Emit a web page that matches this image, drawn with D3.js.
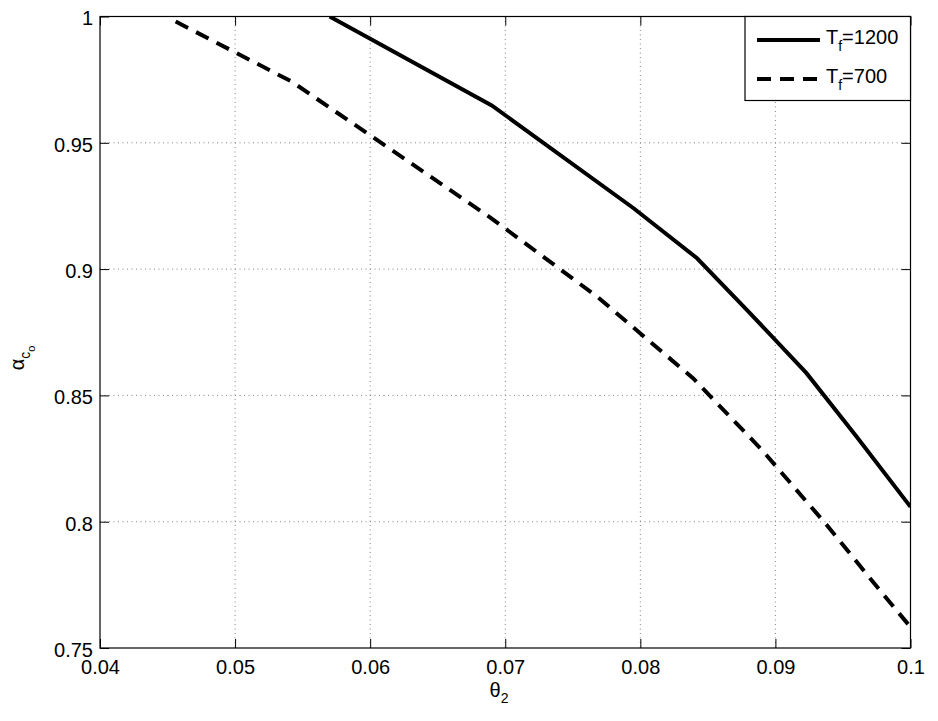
<!DOCTYPE html>
<html lang="en">
<head>
    <meta charset="UTF-8">
    <title>alpha vs theta2</title>
    <style>
        body{
            margin: 0;
            background: #fff;
        }
        svg{
            display: block;
            font-family: "Liberation Sans", Arial, Helvetica, sans-serif;
        }
        .axis text{
            font-size: 20px;
            fill: #000;
        }
        .axis .domain{
            stroke: none;
        }
        .axis .tick line{
            stroke: #000;
            stroke-width: 1px;
        }
        .grid line{
            stroke: #666;
            stroke-width: .8px;
            stroke-dasharray: 1 3.5;
        }
        .frame{
            fill: none;
            stroke: #000;
            stroke-width: 1.2px;
        }
        .TfHigh{
            fill: none;
            stroke: #000;
            stroke-width: 4px;
        }
        .TfLow{
            fill: none;
            stroke: #000;
            stroke-width: 4px;
            stroke-dasharray: 14 9;
        }
        .label{
            font-size: 20px;
        }
    </style>
    <script src="https://cdn.jsdelivr.net/npm/d3@7"></script>
</head>
<body>
<script>

    // ---- data ----
    const xTicks = [0.04, 0.05, 0.06, 0.07, 0.08, 0.09, 0.1];
    const xTickLabels = ["0.04", "0.05", "0.06", "0.07", "0.08", "0.09", "0.1"];
    const yTicks = [0.75, 0.8, 0.85, 0.9, 0.95, 1];
    const yTickLabels = ["0.75", "0.8", "0.85", "0.9", "0.95", "1"];

    // T_f = 1200 (solid)
    const theta1200 = [0.0570, 0.0690, 0.0795, 0.0842, 0.0879, 0.0923, 0.0960, 0.1];
    const alpha1200 = [1.000, 0.9648, 0.9241, 0.9043, 0.8838, 0.8588, 0.8337, 0.8059];

    // T_f = 700 (dashed)
    const theta700 = [0.0456, 0.0542, 0.0690, 0.0768, 0.0839, 0.0890, 0.0938, 0.0974, 0.1];
    const alpha700 = [0.998, 0.9742, 0.9200, 0.8891, 0.8568, 0.8284, 0.7987, 0.7750, 0.7583];

    const seriesNames = ["1200", "700"];

    const width = 938;
    const height = 721;
    const margins = {top: 16.5, bottom: 73, left: 100, right: 27.5};

    const svg = d3.select("body").append("svg")
        .attr("width", width)
        .attr("height", height)
        .attr("viewBox", `0,0,${width},${height}`);

    const xScale = d3.scaleLinear()
        .domain([0.04, 0.1])
        .range([margins.left, width - margins.right]);

    const yScale = d3.scaleLinear()
        .domain([0.75, 1])
        .range([height - margins.bottom, margins.top]);

    const x0 = xScale.range()[0], x1 = xScale.range()[1];
    const y0 = yScale.range()[0], y1 = yScale.range()[1];

    /* ------------- grid ------------- */
    const grid = svg.append("g").attr("class", "grid");
    grid.selectAll(".gx")
        .data(xTicks.slice(1, -1))
        .enter().append("line")
        .attr("x1", d => xScale(d)).attr("x2", d => xScale(d))
        .attr("y1", y1).attr("y2", y0);
    grid.selectAll(".gy")
        .data(yTicks.slice(1, -1))
        .enter().append("line")
        .attr("x1", x0).attr("x2", x1)
        .attr("y1", d => yScale(d)).attr("y2", d => yScale(d));

    /* ------------- axes (ticks point inwards) ------------- */
    const fmtX = (d, i) => xTickLabels[i];
    const fmtY = (d, i) => yTickLabels[i];

    svg.append("g").attr("class", "axis")
        .attr("transform", `translate(0,${y0})`)
        .call(d3.axisBottom(xScale).tickValues(xTicks).tickFormat(fmtX)
            .tickSizeInner(-9).tickSizeOuter(0).tickPadding(12));

    svg.append("g").attr("class", "axis")
        .attr("transform", `translate(0,${y1})`)
        .call(d3.axisTop(xScale).tickValues(xTicks).tickFormat("")
            .tickSizeInner(-9).tickSizeOuter(0));

    svg.append("g").attr("class", "axis")
        .attr("transform", `translate(${x0},0)`)
        .call(d3.axisLeft(yScale).tickValues(yTicks).tickFormat(fmtY)
            .tickSizeInner(-9).tickSizeOuter(0).tickPadding(7))
        .selectAll("text").attr("dy", "0.42em");

    svg.append("g").attr("class", "axis")
        .attr("transform", `translate(${x1},0)`)
        .call(d3.axisRight(yScale).tickValues(yTicks).tickFormat("")
            .tickSizeInner(-9).tickSizeOuter(0));

    svg.append("rect")
        .attr("class", "frame")
        .attr("x", x0).attr("y", y1)
        .attr("width", x1 - x0).attr("height", y0 - y1);

    /* ------------- lines ------------- */
    svg.append("clipPath").attr("id", "plotClip")
        .append("rect")
        .attr("x", x0).attr("y", y1)
        .attr("width", x1 - x0).attr("height", y0 - y1);

    const lineGen = d3.line()
        .x(d => xScale(d[0]))
        .y(d => yScale(d[1]));

    const solidData = theta1200.map((t, i) => [t, alpha1200[i]]);
    const dashedData = theta700.map((t, i) => [t, alpha700[i]]);

    svg.append("path")
        .attr("class", "TfHigh")
        .attr("clip-path", "url(#plotClip)")
        .attr("d", lineGen(solidData));

    svg.append("path")
        .attr("class", "TfLow")
        .attr("clip-path", "url(#plotClip)")
        .attr("d", lineGen(dashedData));

    /* ------------- legend ------------- */
    const legend = svg.append("g").attr("class", "legend");
    legend.append("rect")
        .attr("x", 745).attr("y", y1)
        .attr("width", x1 - 745).attr("height", 84)
        .attr("fill", "#fff")
        .attr("stroke", "#000")
        .attr("stroke-width", 1.2);

    const entries = legend.selectAll(".entry")
        .data(seriesNames)
        .enter().append("g")
        .attr("transform", (d, i) => `translate(0,${40 + i * 39})`);

    entries.append("line")
        .attr("class", (d, i) => i === 0 ? "TfHigh" : "TfLow")
        .attr("x1", 757).attr("x2", 820)
        .attr("y1", 0).attr("y2", 0);

    const lt = entries.append("text")
        .attr("class", "label")
        .attr("x", 826)
        .attr("y", 3.5);
    lt.append("tspan").text("T");
    lt.append("tspan").attr("font-size", "14px").attr("dy", 7).text("f");
    lt.append("tspan").attr("dy", -7).text(d => "=" + d);

    /* ------------- axis labels ------------- */
    const xl = svg.append("text")
        .attr("class", "label")
        .attr("x", 499)
        .attr("y", 697)
        .attr("text-anchor", "middle");
    xl.append("tspan").text("θ");
    xl.append("tspan").attr("font-size", "14px").attr("dy", 6).text("2");

    const yl = svg.append("text")
        .attr("class", "label")
        .attr("transform", "translate(24,358) rotate(-90)")
        .attr("text-anchor", "middle");
    yl.append("tspan").text("α");
    yl.append("tspan").attr("font-size", "14px").attr("dy", 6).text("c");
    yl.append("tspan").attr("font-size", "11px").attr("dy", 5).text("o");

</script>
</body>
</html>
